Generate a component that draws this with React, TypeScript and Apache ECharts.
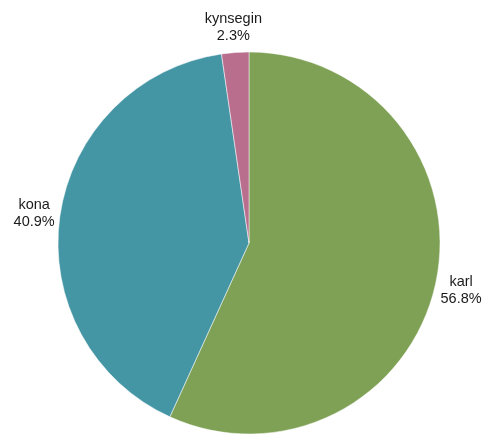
import React, { useEffect, useRef } from "react";
import * as echarts from "echarts";

const categories = ["karl", "kona", "kynsegin"];
const values = [56.8, 40.9, 2.3];
const colors = ["#7fa155", "#4596a5", "#b86e8c"];

const CX = 249;
const CY = 243;
const R = 191;
const LABEL_R = 217;

export default function App() {
  const ref = useRef<HTMLDivElement>(null);
  useEffect(() => {
    const chart = echarts.init(ref.current!, null, { renderer: "svg" });
    const total = values.reduce((a, b) => a + b, 0);
    const mids: number[] = [];
    let acc = 0;
    values.forEach((v) => {
      const midFrac = (acc + v / 2) / total;
      mids.push(((90 - midFrac * 360) * Math.PI) / 180);
      acc += v;
    });
    chart.setOption({
      animation: false,
      series: [
        {
          type: "pie",
          center: [CX, CY],
          radius: R,
          startAngle: 90,
          clockwise: true,
          data: categories.map((c, i) => ({
            name: c,
            value: values[i],
            itemStyle: { color: colors[i] },
          })),
          itemStyle: { borderColor: "#fff", borderWidth: 0.5 },
          label: {
            show: true,
            position: "outside",
            overflow: "none",
            formatter: (p: any) => `${p.name}\n${p.value.toFixed(1)}%`,
            fontFamily: "Liberation Sans, Arial, sans-serif",
            fontSize: 14.5,
            lineHeight: 17,
            color: "#1a1a1a",
          },
          labelLine: { show: false },
          labelLayout: (params: any) => {
            const a = mids[params.dataIndex];
            return {
              x: CX + LABEL_R * Math.cos(a),
              y: CY - LABEL_R * Math.sin(a),
              align: "center",
              verticalAlign: "middle",
            };
          },
        },
      ],
    });
    return () => chart.dispose();
  }, []);
  return (
    <div
      ref={ref}
      style={{ position: "fixed", left: 0, top: 0, width: 486, height: 435 }}
    />
  );
}
